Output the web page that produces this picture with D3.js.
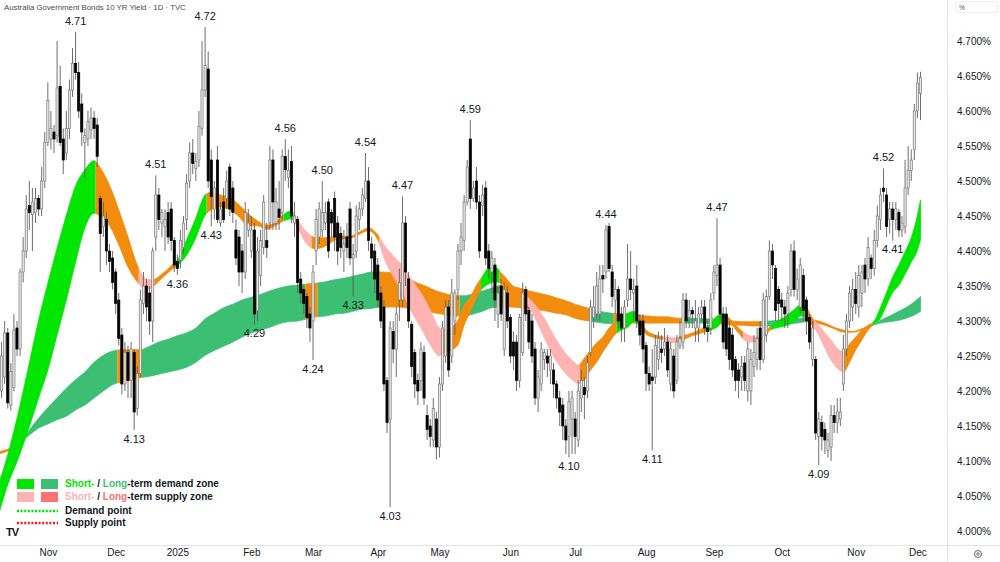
<!DOCTYPE html>
<html><head><meta charset="utf-8">
<script src="https://cdn.jsdelivr.net/npm/d3@7"></script>
<style>
html,body{margin:0;padding:0;background:#fff;}
svg{display:block;font-family:"Liberation Sans",Arial,sans-serif;}
</style></head><body>
<svg id="chart" width="1000" height="562"></svg>
<script>
// daily candles [open, high, low, close], mid Oct 2024 .. 4 Dec 2025
const candles = [
[4.228,4.26,4.215,4.244],[4.20,4.27,4.19,4.25],[4.22,4.30,4.21,4.283],[4.283,4.29,4.175,4.183],[4.18,4.24,4.172,4.228],
[4.205,4.31,4.20,4.287],[4.29,4.30,4.25,4.26],[4.26,4.375,4.25,4.37],[4.37,4.42,4.355,4.40],[4.40,4.48,4.39,4.46],
[4.465,4.50,4.43,4.455],[4.452,4.49,4.40,4.47],[4.455,4.49,4.44,4.475],[4.475,4.48,4.45,4.46],[4.46,4.52,4.45,4.50],
[4.50,4.57,4.49,4.555],[4.555,4.641,4.55,4.615],[4.56,4.60,4.545,4.575],[4.57,4.58,4.54,4.56],[4.565,4.70,4.555,4.633],
[4.635,4.665,4.55,4.555],[4.56,4.575,4.51,4.53],[4.54,4.60,4.53,4.575],[4.575,4.645,4.56,4.63],[4.63,4.69,4.62,4.668],
[4.668,4.713,4.645,4.655],[4.655,4.67,4.59,4.60],[4.61,4.625,4.55,4.57],[4.555,4.575,4.505,4.565],[4.56,4.60,4.55,4.585],
[4.573,4.605,4.56,4.59],[4.59,4.60,4.56,4.575],[4.58,4.59,4.52,4.535],[4.475,4.48,4.37,4.425],[4.435,4.47,4.42,4.45],
[4.445,4.455,4.38,4.40],[4.40,4.41,4.37,4.385],[4.39,4.40,4.345,4.355],[4.37,4.375,4.31,4.325],[4.33,4.34,4.265,4.275],
[4.28,4.29,4.195,4.21],[4.21,4.27,4.20,4.255],[4.255,4.265,4.19,4.215],[4.215,4.27,4.19,4.26],[4.255,4.26,4.144,4.17],
[4.175,4.235,4.165,4.225],[4.225,4.345,4.22,4.33],[4.325,4.37,4.31,4.35],[4.35,4.36,4.30,4.32],[4.34,4.35,4.28,4.30],
[4.30,4.405,4.27,4.40],[4.42,4.508,4.40,4.48],[4.48,4.49,4.43,4.445],[4.44,4.46,4.42,4.455],[4.435,4.46,4.40,4.445],
[4.455,4.47,4.41,4.42],[4.46,4.47,4.40,4.415],[4.415,4.42,4.37,4.38],[4.385,4.395,4.366,4.375],[4.387,4.43,4.375,4.415],
[4.405,4.45,4.395,4.44],[4.445,4.51,4.43,4.497],[4.50,4.555,4.49,4.54],[4.54,4.56,4.51,4.525],[4.518,4.54,4.50,4.528],
[4.53,4.60,4.52,4.578],[4.575,4.70,4.565,4.63],[4.63,4.72,4.62,4.665],[4.66,4.685,4.49,4.50],[4.53,4.545,4.435,4.478],
[4.46,4.50,4.445,4.49],[4.53,4.55,4.44,4.445],[4.44,4.47,4.435,4.46],[4.47,4.49,4.44,4.445],[4.475,4.515,4.46,4.50],
[4.52,4.525,4.45,4.46],[4.49,4.50,4.44,4.455],[4.43,4.445,4.38,4.39],[4.42,4.43,4.35,4.37],[4.40,4.41,4.34,4.37],
[4.37,4.47,4.36,4.455],[4.43,4.46,4.42,4.44],[4.40,4.45,4.39,4.43],[4.43,4.44,4.295,4.31],[4.315,4.42,4.30,4.40],
[4.365,4.43,4.35,4.415],[4.405,4.48,4.395,4.47],[4.415,4.44,4.39,4.405],[4.44,4.55,4.43,4.53],[4.53,4.545,4.43,4.47],
[4.44,4.49,4.43,4.47],[4.46,4.50,4.43,4.448],[4.455,4.545,4.445,4.535],[4.535,4.56,4.50,4.516],[4.505,4.545,4.49,4.515],
[4.528,4.55,4.44,4.45],[4.44,4.47,4.42,4.45],[4.445,4.45,4.34,4.355],[4.36,4.37,4.325,4.34],[4.345,4.35,4.31,4.325],
[4.335,4.34,4.29,4.305],[4.31,4.32,4.27,4.29],[4.30,4.38,4.244,4.37],[4.40,4.46,4.38,4.445],[4.42,4.47,4.41,4.46],
[4.43,4.50,4.42,4.455],[4.44,4.47,4.43,4.455],[4.47,4.475,4.39,4.40],[4.455,4.46,4.42,4.44],[4.475,4.485,4.40,4.42],
[4.44,4.45,4.38,4.40],[4.425,4.435,4.39,4.405],[4.40,4.43,4.37,4.41],[4.42,4.44,4.39,4.405],[4.46,4.47,4.38,4.39],
[4.39,4.41,4.335,4.395],[4.40,4.465,4.39,4.45],[4.445,4.47,4.43,4.46],[4.46,4.49,4.45,4.48],[4.475,4.54,4.47,4.50],
[4.50,4.52,4.40,4.415],[4.41,4.42,4.37,4.39],[4.40,4.41,4.34,4.36],[4.38,4.39,4.32,4.33],[4.34,4.35,4.29,4.30],
[4.32,4.33,4.20,4.21],[4.215,4.22,4.14,4.155],[4.16,4.30,4.034,4.29],[4.285,4.30,4.24,4.26],[4.26,4.32,4.22,4.31],
[4.33,4.375,4.30,4.355],[4.33,4.478,4.32,4.44],[4.44,4.45,4.35,4.37],[4.36,4.37,4.29,4.30],[4.295,4.30,4.22,4.235],
[4.255,4.26,4.19,4.21],[4.215,4.225,4.18,4.20],[4.215,4.27,4.20,4.26],[4.255,4.265,4.18,4.19],[4.165,4.18,4.13,4.145],
[4.15,4.16,4.12,4.135],[4.13,4.19,4.12,4.175],[4.16,4.17,4.102,4.12],[4.12,4.22,4.105,4.21],[4.21,4.30,4.20,4.29],
[4.25,4.33,4.24,4.32],[4.32,4.33,4.22,4.23],[4.25,4.36,4.24,4.34],[4.30,4.345,4.28,4.34],[4.345,4.41,4.33,4.40],
[4.40,4.44,4.38,4.42],[4.415,4.48,4.40,4.47],[4.47,4.53,4.465,4.52],[4.56,4.587,4.46,4.475],[4.475,4.50,4.47,4.49],
[4.50,4.52,4.46,4.47],[4.47,4.48,4.39,4.40],[4.465,4.495,4.45,4.48],[4.49,4.50,4.38,4.39],[4.40,4.41,4.36,4.375],
[4.37,4.40,4.34,4.39],[4.38,4.39,4.30,4.33],[4.31,4.35,4.29,4.34],[4.35,4.36,4.30,4.31],[4.26,4.355,4.25,4.345],
[4.34,4.35,4.29,4.30],[4.305,4.31,4.24,4.25],[4.27,4.285,4.23,4.25],[4.27,4.28,4.20,4.215],[4.215,4.31,4.205,4.305],
[4.255,4.355,4.25,4.34],[4.345,4.35,4.30,4.31],[4.315,4.32,4.26,4.27],[4.30,4.31,4.24,4.25],[4.26,4.27,4.18,4.19],
[4.19,4.23,4.17,4.22],[4.21,4.27,4.20,4.26],[4.245,4.26,4.23,4.255],[4.25,4.26,4.22,4.24],[4.23,4.26,4.21,4.25],
[4.23,4.24,4.19,4.21],[4.21,4.215,4.175,4.19],[4.19,4.20,4.15,4.17],[4.18,4.19,4.13,4.15],[4.15,4.16,4.11,4.13],
[4.135,4.20,4.105,4.185],[4.16,4.20,4.11,4.19],[4.16,4.17,4.11,4.135],[4.13,4.215,4.12,4.20],[4.19,4.23,4.17,4.215],
[4.205,4.22,4.16,4.195],[4.20,4.25,4.19,4.24],[4.255,4.33,4.25,4.32],[4.305,4.35,4.29,4.32],[4.31,4.37,4.30,4.35],
[4.31,4.38,4.30,4.36],[4.365,4.38,4.34,4.36],[4.37,4.437,4.36,4.43],[4.435,4.44,4.37,4.375],[4.37,4.38,4.32,4.335],
[4.33,4.36,4.31,4.345],[4.345,4.35,4.29,4.30],[4.31,4.32,4.27,4.29],[4.29,4.33,4.27,4.32],[4.33,4.41,4.32,4.36],
[4.36,4.40,4.33,4.345],[4.34,4.36,4.30,4.345],[4.35,4.38,4.29,4.30],[4.30,4.31,4.265,4.28],[4.30,4.31,4.24,4.26],
[4.265,4.27,4.20,4.225],[4.225,4.235,4.20,4.21],[4.22,4.26,4.115,4.215],[4.22,4.28,4.21,4.265],[4.245,4.285,4.23,4.275],
[4.26,4.28,4.24,4.255],[4.26,4.29,4.25,4.27],[4.27,4.28,4.22,4.23],[4.21,4.27,4.20,4.26],[4.25,4.26,4.19,4.20],
[4.215,4.28,4.21,4.27],[4.265,4.30,4.26,4.275],[4.27,4.34,4.26,4.33],[4.33,4.34,4.29,4.30],[4.305,4.33,4.29,4.315],
[4.315,4.32,4.29,4.31],[4.29,4.33,4.27,4.30],[4.29,4.32,4.27,4.31],[4.31,4.33,4.30,4.32],[4.32,4.33,4.28,4.29],
[4.29,4.30,4.27,4.285],[4.29,4.34,4.28,4.33],[4.34,4.38,4.33,4.37],[4.365,4.447,4.35,4.38],[4.38,4.39,4.30,4.31],
[4.31,4.32,4.26,4.27],[4.31,4.32,4.25,4.26],[4.29,4.30,4.23,4.245],[4.28,4.29,4.22,4.23],[4.245,4.25,4.20,4.215],
[4.23,4.24,4.19,4.215],[4.22,4.25,4.20,4.235],[4.24,4.25,4.20,4.215],[4.20,4.27,4.185,4.26],[4.20,4.26,4.18,4.245],
[4.235,4.28,4.22,4.255],[4.245,4.29,4.23,4.275],[4.29,4.30,4.23,4.245],[4.245,4.34,4.24,4.33],[4.28,4.345,4.27,4.335],
[4.335,4.415,4.33,4.40],[4.40,4.41,4.36,4.38],[4.375,4.38,4.30,4.315],[4.345,4.35,4.30,4.325],[4.33,4.34,4.30,4.32],
[4.32,4.33,4.29,4.31],[4.31,4.35,4.29,4.34],[4.345,4.41,4.335,4.40],[4.40,4.415,4.335,4.345],[4.345,4.375,4.33,4.36],
[4.32,4.39,4.31,4.38],[4.365,4.375,4.30,4.315],[4.33,4.335,4.28,4.30],[4.305,4.31,4.26,4.27],[4.245,4.30,4.235,4.29],
[4.245,4.25,4.13,4.14],[4.135,4.17,4.094,4.16],[4.155,4.165,4.115,4.135],[4.145,4.155,4.11,4.13],[4.115,4.14,4.105,4.13],
[4.12,4.18,4.10,4.165],[4.165,4.18,4.14,4.155],[4.155,4.19,4.14,4.17],[4.16,4.19,4.15,4.17],[4.21,4.28,4.20,4.26],
[4.26,4.31,4.25,4.30],[4.30,4.35,4.29,4.34],[4.32,4.36,4.30,4.345],[4.345,4.37,4.31,4.325],[4.32,4.38,4.305,4.365],
[4.34,4.38,4.32,4.37],[4.38,4.39,4.34,4.36],[4.36,4.42,4.35,4.405],[4.39,4.395,4.36,4.375],[4.375,4.43,4.365,4.415],
[4.415,4.465,4.405,4.45],[4.445,4.49,4.43,4.48],[4.49,4.518,4.47,4.485],[4.48,4.49,4.42,4.435],[4.445,4.47,4.425,4.46],
[4.46,4.47,4.415,4.445],[4.445,4.47,4.43,4.46],[4.455,4.46,4.42,4.43],[4.43,4.45,4.42,4.44],[4.435,4.53,4.425,4.49],
[4.49,4.55,4.48,4.515],[4.515,4.545,4.50,4.53],[4.545,4.61,4.53,4.60],[4.60,4.655,4.59,4.64],[4.625,4.656,4.587,4.648]
];

// zone bands sampled along the bars: [bar, upper edge, lower edge]
const shortBand = [[0,4.066,4.023],[3,4.109,4.066],[6,4.161,4.099],[10,4.240,4.149],[13,4.301,4.190],[16,4.354,4.230],[19,4.404,4.280],[22,4.451,4.330],[25,4.493,4.384],[28,4.516,4.433],[31,4.529,4.454],[33,4.519,4.450],[36,4.494,4.436],[39,4.459,4.409],[42,4.420,4.377],[45,4.380,4.356],[48,4.360,4.344],[50,4.359,4.349],[53,4.367,4.361],[56,4.379,4.373],[58,4.387,4.379],[61,4.416,4.394],[64,4.447,4.419],[67,4.480,4.451],[69,4.484,4.459],[72,4.480,4.463],[75,4.476,4.459],[78,4.466,4.449],[81,4.453,4.436],[84,4.443,4.436],[87,4.437,4.431],[90,4.441,4.437],[93,4.454,4.444],[95,4.457,4.446],[97,4.444,4.433],[100,4.427,4.410],[103,4.419,4.403],[106,4.419,4.407],[110,4.421,4.417],[114,4.421,4.418],[117,4.427,4.424],[120,4.433,4.429],[123,4.423,4.416],[125,4.409,4.390],[128,4.393,4.364],[131,4.379,4.341],[134,4.359,4.313],[137,4.340,4.290],[140,4.316,4.266],[143,4.290,4.250],[145,4.287,4.256],[147,4.291,4.259],[149,4.301,4.266],[151,4.323,4.294],[153,4.334,4.313],[155,4.351,4.333],[157,4.364,4.347],[159,4.376,4.353],[161,4.377,4.356],[163,4.369,4.354],[165,4.359,4.347],[167,4.349,4.340],[169,4.341,4.333],[171,4.336,4.326],[174,4.323,4.304],[177,4.304,4.276],[180,4.280,4.249],[183,4.259,4.230],[186,4.244,4.216],[188,4.237,4.211],[190,4.247,4.216],[192,4.259,4.230],[194,4.269,4.241],[196,4.277,4.256],[198,4.290,4.269],[200,4.299,4.281],[202,4.307,4.287],[204,4.311,4.291],[206,4.314,4.299],[208,4.304,4.293],[210,4.287,4.281],[213,4.280,4.276],[216,4.277,4.273],[219,4.276,4.269],[222,4.279,4.273],[225,4.283,4.279],[228,4.289,4.283],[231,4.296,4.287],[233,4.307,4.291],[235,4.310,4.299],[237,4.304,4.297],[240,4.290,4.283],[243,4.280,4.270],[246,4.277,4.270],[248,4.280,4.276],[250,4.291,4.286],[252,4.297,4.290],[255,4.306,4.293],[258,4.316,4.299],[260,4.323,4.307],[262,4.319,4.304],[264,4.304,4.293],[266,4.294,4.280],[268,4.283,4.261],[270,4.273,4.244],[272,4.261,4.233],[274,4.256,4.227],[276,4.267,4.241],[278,4.277,4.259],[280,4.287,4.273],[282,4.294,4.287],[284,4.300,4.296],[286,4.319,4.304],[288,4.341,4.323],[290,4.363,4.341],[292,4.380,4.351],[294,4.399,4.367],[296,4.419,4.384],[298,4.451,4.401],[299,4.473,4.416]];

const longBand = [[0,4.113,4.110],[3,4.117,4.114],[6,4.124,4.121],[7,4.127,4.126],[10,4.144,4.137],[13,4.161,4.147],[16,4.176,4.153],[19,4.190,4.159],[22,4.204,4.164],[25,4.216,4.173],[28,4.227,4.180],[31,4.241,4.190],[34,4.251,4.200],[37,4.257,4.209],[40,4.259,4.213],[43,4.259,4.216],[46,4.259,4.219],[49,4.264,4.221],[52,4.270,4.224],[55,4.274,4.227],[58,4.279,4.230],[61,4.283,4.234],[64,4.290,4.241],[67,4.303,4.251],[70,4.311,4.258],[73,4.319,4.264],[76,4.324,4.270],[79,4.330,4.277],[82,4.334,4.283],[85,4.338,4.287],[88,4.343,4.291],[91,4.347,4.296],[94,4.350,4.299],[97,4.351,4.300],[100,4.353,4.303],[103,4.354,4.306],[106,4.356,4.307],[109,4.359,4.310],[112,4.361,4.311],[115,4.364,4.314],[118,4.367,4.317],[121,4.370,4.318],[124,4.370,4.320],[127,4.369,4.320],[130,4.366,4.320],[133,4.360,4.318],[136,4.354,4.317],[139,4.349,4.314],[142,4.343,4.311],[145,4.339,4.309],[148,4.336,4.307],[151,4.336,4.307],[154,4.339,4.310],[157,4.343,4.314],[160,4.347,4.319],[163,4.351,4.320],[166,4.350,4.320],[169,4.347,4.319],[172,4.343,4.317],[175,4.340,4.316],[178,4.337,4.314],[181,4.333,4.311],[184,4.329,4.309],[187,4.324,4.304],[190,4.320,4.301],[193,4.316,4.299],[196,4.313,4.297],[199,4.311,4.296],[202,4.310,4.296],[205,4.310,4.297],[208,4.308,4.297],[211,4.307,4.297],[214,4.306,4.297],[217,4.306,4.297],[220,4.304,4.297],[223,4.304,4.297],[226,4.304,4.297],[229,4.303,4.297],[232,4.303,4.296],[235,4.301,4.296],[238,4.300,4.294],[241,4.299,4.294],[244,4.299,4.293],[247,4.299,4.293],[250,4.300,4.293],[253,4.301,4.294],[256,4.303,4.296],[259,4.304,4.297],[262,4.304,4.299],[265,4.301,4.297],[268,4.297,4.294],[271,4.291,4.289],[274,4.287,4.284],[277,4.285,4.284],[280,4.289,4.287],[283,4.294,4.293],[286,4.301,4.297],[289,4.307,4.299],[292,4.314,4.301],[295,4.321,4.305],[298,4.331,4.311],[299,4.335,4.314]];

// zone state per bar range: [from, to, state]
const shortZones = [[0,31,'demand'],[32,45,'neutral'],[46,50,'supply'],[51,57,'neutral'],[58,67,'demand'],[68,92,'neutral'],[93,95,'demand'],[96,101,'supply'],[102,123,'neutral'],[124,143,'supply'],[144,156,'neutral'],[157,162,'demand'],[163,170,'neutral'],[171,188,'supply'],[189,200,'neutral'],[201,207,'demand'],[208,215,'neutral'],[216,220,'supply'],[221,229,'neutral'],[230,236,'demand'],[237,241,'neutral'],[242,247,'supply'],[248,250,'neutral'],[251,261,'demand'],[262,264,'neutral'],[265,273,'supply'],[274,283,'neutral'],[284,299,'demand']];
const longZones = [[0,6,'neutral'],[7,38,'demand'],[39,46,'neutral'],[47,99,'demand'],[100,103,'neutral'],[104,123,'demand'],[124,149,'neutral'],[150,162,'demand'],[163,191,'neutral'],[192,199,'demand'],[200,222,'neutral'],[223,231,'demand'],[232,247,'neutral'],[248,261,'demand'],[262,283,'neutral'],[284,299,'demand']];

// swing labels: [bar, text, side]
const pivots = [[25,'4.71','high'],[67,'4.72','high'],[51,'4.51','high'],[69,'4.43','low'],[58,'4.36','low'],[44,'4.13','low'],
  [93,'4.56','high'],[105,'4.50','high'],[119,'4.54','high'],[131,'4.47','high'],[83,'4.29','low'],[102,'4.24','low'],[115,'4.33','low'],[127,'4.03','low'],
  [153,'4.59','high'],[185,'4.10','low'],[197,'4.44','high'],[212,'4.11','low'],[233,'4.47','high'],[266,'4.09','low'],[287,'4.52','high'],[290,'4.41','low']];

const monthLabels = ['Nov','Dec','2025','Feb','Mar','Apr','May','Jun','Jul','Aug','Sep','Oct','Nov','Dec'];
const monthBars = [16,38,58,82,102,123,143,166,187,210,232,254,278,298];
const yTicks = [4.00,4.05,4.10,4.15,4.20,4.25,4.30,4.35,4.40,4.45,4.50,4.55,4.60,4.65,4.70];

const shortColors = {demand:'#00e600', supply:'#ffb3b3', neutral:'#f28c0c'};
const longColors = {demand:'#3dbf73', supply:'#ff7070', neutral:'#f28c0c'};

const svg = d3.select('#chart');
const plotW = 947, plotH = 545;

const x = d3.scaleLinear().domain([0, candles.length - 1]).range([-1.5, 920.5]);
const y = d3.scaleLinear().domain([4.0, 4.7]).range([531, 41]);
const step = x(1) - x(0);

const defs = svg.append('defs');
defs.append('clipPath').attr('id', 'plot').append('rect').attr('width', plotW).attr('height', plotH);
const plot = svg.append('g').attr('clip-path', 'url(#plot)');

// bands: one area shape, coloured in strips per zone state
function drawBand(rows, zones, colors, id) {
    const area = d3.area()
        .x(d => x(d[0]))
        .y0(d => y(d[2]))
        .y1(d => y(d[1]))
        .curve(d3.curveMonotoneX);
    const path = area(rows);
    const g = plot.append('g');
    zones.forEach((z, k) => {
        defs.append('clipPath').attr('id', id + k).append('rect')
            .attr('x', x(z[0]) - step / 2)
            .attr('width', x(z[1]) - x(z[0]) + step)
            .attr('y', 0).attr('height', plotH);
        g.append('path')
            .attr('d', path)
            .attr('fill', colors[z[2]])
            .attr('stroke', colors[z[2]])
            .attr('stroke-width', 0.8)
            .attr('clip-path', `url(#${id + k})`);
    });
}
drawBand(longBand, longZones, longColors, 'lz');
drawBand(shortBand, shortZones, shortColors, 'sz');

// candles
const bars = plot.append('g').selectAll('g').data(candles).join('g');
bars.append('line')
    .attr('x1', (d, i) => x(i)).attr('x2', (d, i) => x(i))
    .attr('y1', d => y(d[1])).attr('y2', d => y(d[2]))
    .attr('stroke', '#5d5d5d').attr('stroke-width', 0.9);
bars.append('rect')
    .attr('x', (d, i) => x(i) - 1.1)
    .attr('width', 2.2)
    .attr('y', d => y(Math.max(d[0], d[3])))
    .attr('height', d => Math.max(0.8, Math.abs(y(d[0]) - y(d[3]))))
    .attr('fill', d => d[3] >= d[0] ? '#e6e6e6' : '#000')
    .attr('stroke', d => d[3] >= d[0] ? '#7d7d7d' : '#000')
    .attr('stroke-width', 0.7);

// swing labels
plot.append('g').selectAll('text').data(pivots).join('text')
    .attr('x', d => x(d[0]))
    .attr('y', d => d[2] === 'high' ? y(candles[d[0]][1]) - 10 : y(candles[d[0]][2]) + 10)
    .attr('text-anchor', 'middle')
    .attr('dominant-baseline', 'middle')
    .attr('font-size', 11)
    .attr('fill', '#131722')
    .text(d => d[1]);

// axes
svg.append('line').attr('x1', plotW + 0.5).attr('x2', plotW + 0.5).attr('y1', 0).attr('y2', 562).attr('stroke', '#e0e3eb');
svg.append('line').attr('x1', 0).attr('x2', 1000).attr('y1', plotH + 0.5).attr('y2', plotH + 0.5).attr('stroke', '#e0e3eb');

svg.append('g')
    .attr('transform', `translate(${plotW},0)`)
    .call(d3.axisRight(y).tickValues(yTicks).tickFormat(d => d.toFixed(3) + '%').tickSize(0).tickPadding(10))
    .call(g => g.select('.domain').remove())
    .call(g => g.selectAll('text').attr('font-size', 10).attr('fill', '#131722').attr('font-family', '"Liberation Sans",Arial,sans-serif'));

svg.append('g')
    .attr('transform', `translate(0,${plotH})`)
    .call(d3.axisBottom(x).tickValues(monthBars).tickFormat((d, i) => monthLabels[i]).tickSize(0).tickPadding(4))
    .call(g => g.select('.domain').remove())
    .call(g => g.selectAll('text').attr('font-size', 10).attr('fill', '#131722').attr('font-family', '"Liberation Sans",Arial,sans-serif'));

// title and chrome
svg.append('text').attr('x', 4).attr('y', 10).attr('font-size', 7.8).attr('fill', '#4a4a4a')
    .text('Australia Government Bonds 10 YR Yield · 1D · TVC');
svg.append('rect').attr('x', 955.5).attr('y', 1.5).attr('width', 42).attr('height', 11).attr('rx', 2)
    .attr('fill', '#fff').attr('stroke', '#eceef2');
svg.append('text').attr('x', 959).attr('y', 10).attr('font-size', 6.5).attr('fill', '#555').text('%');
svg.append('circle').attr('cx', 978).attr('cy', 554).attr('r', 3.5).attr('fill', 'none').attr('stroke', '#555').attr('stroke-width', 0.9);
svg.append('circle').attr('cx', 978).attr('cy', 554).attr('r', 1.3).attr('fill', 'none').attr('stroke', '#555').attr('stroke-width', 0.8);
svg.append('text').attr('x', 6).attr('y', 536).attr('font-size', 11).attr('font-weight', 'bold')
    .attr('letter-spacing', -1).attr('fill', '#131722').text('TV');

// legend
const legendRows = [
    {y: 484, boxes: [shortColors.demand, longColors.demand],
     parts: [['Short-', shortColors.demand], [' / ', '#131722'], ['Long', longColors.demand], ['-term demand zone', '#131722']]},
    {y: 497, boxes: [shortColors.supply, longColors.supply],
     parts: [['Short-', shortColors.supply], [' / ', '#131722'], ['Long', longColors.supply], ['-term supply zone', '#131722']]},
    {y: 511, dots: '#00e600', parts: [['Demand point', '#131722']]},
    {y: 523, dots: '#ff1a1a', parts: [['Supply point', '#131722']]}
];
const lg = svg.append('g');
legendRows.forEach(r => {
    if (r.boxes) {
        r.boxes.forEach((c, k) => lg.append('rect').attr('x', 17 + k * 24).attr('y', r.y - 5).attr('width', 17).attr('height', 10).attr('fill', c));
    } else {
        lg.append('line').attr('x1', 17).attr('x2', 58).attr('y1', r.y).attr('y2', r.y)
            .attr('stroke', r.dots).attr('stroke-width', 2.5).attr('stroke-dasharray', '2,1.6');
    }
    const t = lg.append('text').attr('x', 65).attr('y', r.y).attr('dominant-baseline', 'middle')
        .attr('font-size', 10).attr('font-weight', 'bold');
    r.parts.forEach(p => t.append('tspan').attr('fill', p[1]).text(p[0]));
});
</script>
</body></html>
